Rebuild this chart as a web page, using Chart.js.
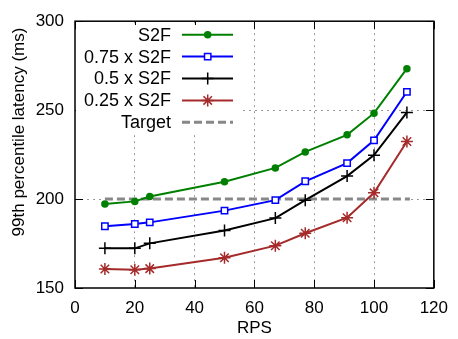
<!DOCTYPE html>
<html><head><meta charset="utf-8">
<script src="https://cdn.jsdelivr.net/npm/chart.js@4/dist/chart.umd.min.js"></script>
<style>html,body{margin:0;padding:0;background:#fff}#wrap{width:458px;height:339px}</style>
</head><body><div id="wrap"><canvas id="c" width="458" height="339"></canvas></div>
<script>
const rps = [10, 20, 25, 50, 67, 77, 91, 100, 111];
const s2f = [197.2, 198.7, 201.4, 209.7, 217.5, 226.5, 236.1, 248.3, 273.3];
const s2f75 = [184.7, 186.0, 186.9, 193.5, 199.4, 210.0, 220.2, 233.0, 260.3];
const s2f50 = [172.3, 172.3, 175.1, 182.3, 189.3, 199.4, 212.9, 224.7, 248.7];
const s2f25 = [160.7, 160.3, 160.9, 167.0, 173.8, 180.8, 189.5, 203.5, 232.4];
const targetRps = [10, 112];
const targetLatency = [200, 200];
const xTicks = [0, 20, 40, 60, 80, 100, 120];
const yTicks = [150, 200, 250, 300];
const seriesNames = ['S2F', '0.75 x S2F', '0.5 x S2F', '0.25 x S2F', 'Target'];
const xTitle = 'RPS';
const yTitle = '99th percentile latency (ms)';

const FONT = '"Liberation Sans", Arial, sans-serif';
const FS = 17;
const pts = (xs, ys) => xs.map((x, i) => ({x, y: ys[i]}));

const styles = [
  {color: '#008000', pointStyle: 'circle', radius: 3, fill: '#008000', width: 2},
  {color: '#0000ff', pointStyle: 'rect', radius: 4.5, fill: '#ffffff', width: 2},
  {color: '#000000', pointStyle: 'cross', radius: 6, fill: '#000000', width: 2},
  {color: '#a52a2a', pointStyle: 'star', radius: 6, fill: '#a52a2a', width: 2},
  {color: '#888888', pointStyle: false, radius: 0, fill: '#888888', width: 3, dash: [8, 4]}
];

const seriesData = [pts(rps, s2f), pts(rps, s2f75), pts(rps, s2f50), pts(rps, s2f25), pts(targetRps, targetLatency)];

const datasets = seriesData.map((d, i) => {
  const s = styles[i];
  return {
    label: seriesNames[i],
    data: d,
    borderColor: s.color,
    backgroundColor: s.fill,
    borderWidth: s.width,
    borderDash: s.dash || [],
    pointStyle: s.pointStyle,
    pointRadius: s.radius,
    pointBorderColor: s.color,
    pointBackgroundColor: s.fill,
    pointBorderWidth: 1.5,
    pointHoverRadius: s.radius,
    tension: 0,
    fill: false,
    order: i === 4 ? 10 : i
  };
});

function drawMarker(ctx, s, x, y) {
  ctx.save();
  ctx.strokeStyle = s.color;
  ctx.fillStyle = s.fill;
  ctx.lineWidth = 1.5;
  ctx.setLineDash([]);
  const r = s.radius;
  ctx.beginPath();
  if (s.pointStyle === 'circle') {
    ctx.arc(x, y, r, 0, Math.PI * 2); ctx.fill(); ctx.stroke();
  } else if (s.pointStyle === 'rect') {
    const h = r * Math.SQRT1_2;
    ctx.rect(x - h, y - h, 2 * h, 2 * h); ctx.fill(); ctx.stroke();
  } else if (s.pointStyle === 'cross') {
    ctx.moveTo(x - r, y); ctx.lineTo(x + r, y); ctx.moveTo(x, y - r); ctx.lineTo(x, y + r); ctx.stroke();
  } else if (s.pointStyle === 'star') {
    ctx.moveTo(x - r, y); ctx.lineTo(x + r, y); ctx.moveTo(x, y - r); ctx.lineTo(x, y + r);
    const d = r * Math.SQRT1_2;
    ctx.moveTo(x - d, y - d); ctx.lineTo(x + d, y + d); ctx.moveTo(x - d, y + d); ctx.lineTo(x + d, y - d);
    ctx.stroke();
  }
  ctx.restore();
}

const decor = {
  id: 'decor',
  beforeDatasetsDraw(chart) {
    const {ctx, chartArea: a, scales: {x, y}} = chart;
    ctx.save();
    ctx.strokeStyle = '#000'; ctx.lineWidth = 1; ctx.setLineDash([]);
    ctx.beginPath();
    xTicks.forEach(v => {
      const px = Math.round(x.getPixelForValue(v)) + 0.5;
      ctx.moveTo(px, a.bottom); ctx.lineTo(px, a.bottom - 8);
      ctx.moveTo(px, a.top); ctx.lineTo(px, a.top + 8);
    });
    yTicks.forEach(v => {
      const py = Math.round(y.getPixelForValue(v)) + 0.5;
      ctx.moveTo(a.left, py); ctx.lineTo(a.left + 8, py);
      ctx.moveTo(a.right, py); ctx.lineTo(a.right - 8, py);
    });
    ctx.stroke();
    ctx.fillStyle = '#fff';
    ctx.fillRect(a.left + 1, 25, 243 - a.left - 1, 109);
    ctx.restore();
  },
  afterDatasetsDraw(chart) {
    const {ctx, chartArea: a} = chart;
    ctx.save();
    ctx.font = '18px ' + FONT;
    ctx.textAlign = 'right';
    ctx.textBaseline = 'middle';
    seriesNames.forEach((name, i) => {
      const yy = 34.7 + i * 21.9;
      const s = styles[i];
      ctx.fillStyle = '#000';
      ctx.fillText(name, 171, yy + 1);
      ctx.strokeStyle = s.color;
      ctx.lineWidth = s.width;
      ctx.setLineDash(s.dash || []);
      ctx.beginPath(); ctx.moveTo(182, yy); ctx.lineTo(233, yy); ctx.stroke();
      ctx.setLineDash([]);
      if (s.pointStyle) drawMarker(ctx, s, 207.7, yy);
    });
    ctx.strokeStyle = '#000'; ctx.lineWidth = 1.5; ctx.setLineDash([]);
    ctx.strokeRect(a.left, a.top, a.right - a.left, a.bottom - a.top);
    ctx.translate(19, 132);
    ctx.rotate(-Math.PI / 2);
    ctx.textAlign = 'center';
    ctx.fillStyle = '#000';
    ctx.font = FS + 'px ' + FONT;
    ctx.fillText(yTitle, 0, 0);
    ctx.restore();
  }
};

new Chart(document.getElementById('c'), {
  type: 'line',
  data: {datasets},
  plugins: [decor],
  options: {
    responsive: false,
    animation: false,
    devicePixelRatio: 1,
    layout: {padding: {top: 15, right: 16, left: 0, bottom: 0}},
    plugins: {legend: {display: false}, tooltip: {enabled: false}},
    scales: {
      x: {
        type: 'linear', min: 0, max: 120,
        afterBuildTicks: s => { s.ticks = xTicks.map(v => ({value: v})); },
        afterFit: s => { s.height = 51; },
        border: {display: false, dash: [2, 4]},
        grid: {
          drawTicks: false,
          color: c => (c.tick && (c.tick.value === 0 || c.tick.value === 120)) ? 'rgba(0,0,0,0)' : '#999',
          lineWidth: 1
        },
        ticks: {color: '#000', font: {family: FONT, size: FS}, padding: 10, maxRotation: 0},
        title: {display: true, text: xTitle, color: '#000', font: {family: FONT, size: FS}, padding: {top: 0, bottom: 0}}
      },
      y: {
        type: 'linear', min: 150, max: 300,
        afterBuildTicks: s => { s.ticks = yTicks.map(v => ({value: v})); },
        afterFit: s => { s.width = 75; },
        border: {display: false, dash: [2, 4]},
        grid: {
          drawTicks: false,
          color: c => (c.tick && (c.tick.value === 150 || c.tick.value === 300)) ? 'rgba(0,0,0,0)' : '#999',
          lineWidth: 1
        },
        ticks: {color: '#000', font: {family: FONT, size: FS}, padding: 11}
      }
    }
  }
});
</script>
</body></html>
